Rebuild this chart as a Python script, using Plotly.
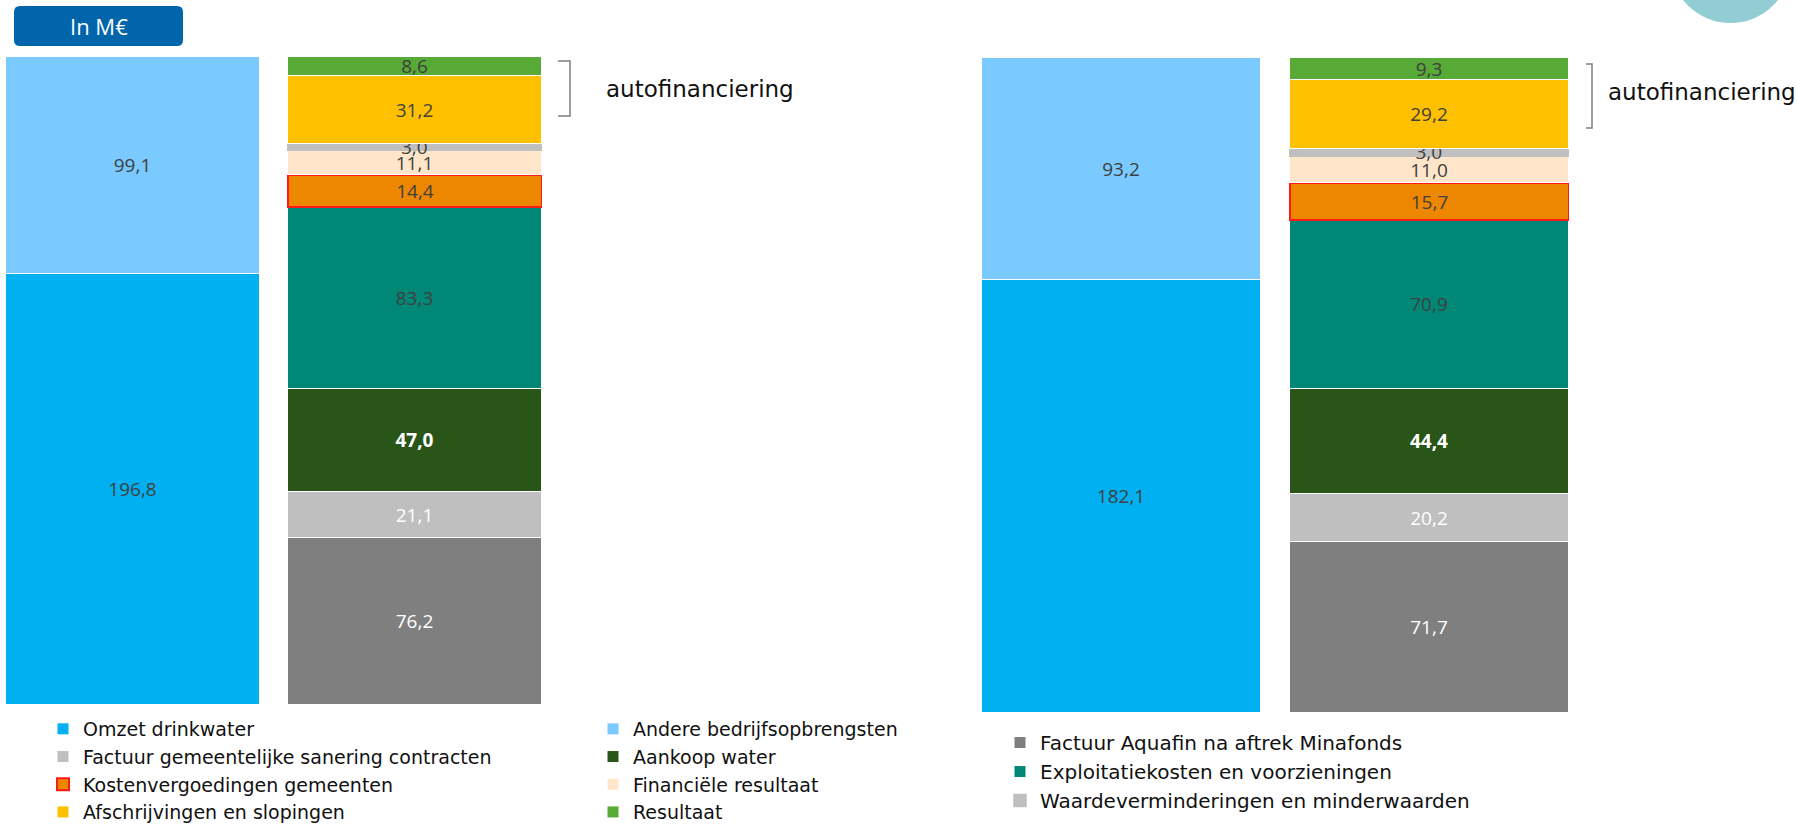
import plotly.graph_objects as go

# ---------------- data ----------------
bar_labels = ["Opbrengsten", "Kosten"]
revenue_names = ["Omzet drinkwater", "Andere bedrijfsopbrengsten"]
revenue_left = [196.8, 99.1]
revenue_right = [182.1, 93.2]

cost_names = [
    "Factuur Aquafin na aftrek Minafonds",
    "Factuur gemeentelijke sanering contracten",
    "Aankoop water",
    "Exploitatiekosten en voorzieningen",
    "Kostenvergoedingen gemeenten",
    "Financiële resultaat",
    "Waardeverminderingen en minderwaarden",
    "Afschrijvingen en slopingen",
    "Resultaat",
]
cost_left = [76.2, 21.1, 47.0, 83.3, 14.4, 11.1, 3.0, 31.2, 8.6]
cost_right = [71.7, 20.2, 44.4, 70.9, 15.7, 11.0, 3.0, 29.2, 9.3]

bracket_label = "autofinanciering"
unit_label = "In M€"

# ---------------- style ----------------
W, H = 1797, 825
revenue_colors = ["#00B0F0", "#7AC9FF"]
cost_colors = ["#7F7F7F", "#BFBFBF", "#2A5519", "#008775", "#EE8700",
               "#FFE6CA", "#BFBFBF", "#FFC000", "#56AA35"]
cost_line_colors = ["white", "white", "white", "white", "#FF1A1A",
                    "white", "#BFBFBF", "white", "white"]
cost_line_widths = [1, 1, 1, 1, 2, 1, 1.5, 1, 1]
cost_text_colors = ["white", "white", "white", "#404040", "#404040",
                    "#404040", "#404040", "#404040", "#404040"]
revenue_legend = ["legend", "legend2"]
cost_legend = ["legend3", "legend", "legend2", "legend3", "legend",
               "legend2", "legend3", "legend", "legend2"]

LABEL_FONT = "Open Sans"
TEXT_FONT = "DejaVu Sans"


def px(x):
    return x / W


def py(y):
    return 1 - y / H


fig = go.Figure()


def add_chart(rev_vals, cost_vals, xa, ya, show, bw):
    for i, (n, v) in enumerate(zip(revenue_names, rev_vals)):
        fig.add_trace(go.Bar(
            x=[0], y=[v], width=[bw], name=n, xaxis=xa, yaxis=ya,
            marker=dict(color=revenue_colors[i], line=dict(color="white", width=1)),
            texttemplate="%{y:.1f}", textposition="inside", insidetextanchor="middle",
            constraintext="none", textangle=0,
            textfont=dict(family=LABEL_FONT, size=19, color="#404040"),
            showlegend=show, legend=revenue_legend[i], hoverinfo="skip",
        ))
    for i, (n, v) in enumerate(zip(cost_names, cost_vals)):
        fig.add_trace(go.Bar(
            x=[1], y=[v], width=[bw], name=n, xaxis=xa, yaxis=ya,
            marker=dict(color=cost_colors[i],
                        line=dict(color=cost_line_colors[i], width=cost_line_widths[i])),
            texttemplate="%{y:.1f}", textposition="inside", insidetextanchor="middle",
            constraintext="none", textangle=0,
            textfont=dict(family=LABEL_FONT, size=19, color=cost_text_colors[i],
                          weight="bold" if i == 2 else "normal"),
            showlegend=show, legend=cost_legend[i], hoverinfo="skip",
        ))


wl, wr = 0.902, 0.904
add_chart(revenue_left, cost_left, "x", "y", True, wl)
add_chart(revenue_right, cost_right, "x2", "y2", False, wr)

legend_common = dict(xanchor="left", yanchor="top", traceorder="normal", orientation="v",
                     bgcolor="rgba(0,0,0,0)", tracegroupgap=0)
fig.update_layout(
    width=W, height=H, margin=dict(l=0, r=0, t=0, b=0, autoexpand=False),
    paper_bgcolor="white", plot_bgcolor="white",
    barmode="stack", bargap=0, separators=",.",
    showlegend=True,
    xaxis=dict(domain=[px(6), px(542)], range=[-wl / 2, 1 + wl / 2], visible=False, fixedrange=True),
    yaxis=dict(domain=[py(705), py(57)], range=[0, sum(revenue_left)], visible=False, fixedrange=True),
    xaxis2=dict(domain=[px(982), px(1569)], range=[-wr / 2, 1 + wr / 2], visible=False,
                anchor="y2", fixedrange=True),
    yaxis2=dict(domain=[py(713), py(58)], range=[0, sum(revenue_right)], visible=False,
                anchor="x2", fixedrange=True),
    legend=dict(x=px(43), y=py(710), font=dict(family=TEXT_FONT, size=19, color="#111111"),
                **legend_common),
    legend2=dict(x=px(593), y=py(710), font=dict(family=TEXT_FONT, size=19, color="#111111"),
                 **legend_common),
    legend3=dict(x=px(1000), y=py(723), font=dict(family=TEXT_FONT, size=20, color="#111111"),
                 **legend_common),
)

# "In M€" rounded box
x0, x1, y0, y1, r = 14, 183, 6, 46, 6
path = (f"M {px(x0 + r)},{py(y0)} L {px(x1 - r)},{py(y0)} Q {px(x1)},{py(y0)} {px(x1)},{py(y0 + r)} "
        f"L {px(x1)},{py(y1 - r)} Q {px(x1)},{py(y1)} {px(x1 - r)},{py(y1)} "
        f"L {px(x0 + r)},{py(y1)} Q {px(x0)},{py(y1)} {px(x0)},{py(y1 - r)} "
        f"L {px(x0)},{py(y0 + r)} Q {px(x0)},{py(y0)} {px(x0 + r)},{py(y0)} Z")
fig.add_shape(type="path", path=path, xref="paper", yref="paper",
              fillcolor="#0065AB", line=dict(width=0), layer="above")
fig.add_annotation(x=px((x0 + x1) / 2), y=py((y0 + y1) / 2), xref="paper", yref="paper",
                   text=unit_label, showarrow=False, xanchor="center", yanchor="middle",
                   font=dict(family=LABEL_FONT, size=22, color="white"))

# decorative circle top right
fig.add_shape(type="circle", xref="paper", yref="paper",
              x0=px(1670), x1=px(1791), y0=py(23), y1=py(-98),
              fillcolor="#93CDD4", line=dict(width=0))

# brackets + labels
for (bx0, bx1, by0, by1, tx, ty) in [(558, 570, 61, 116, 604, 89), (1586, 1592, 64, 128, 1606, 92)]:
    fig.add_shape(type="path", xref="paper", yref="paper",
                  path=f"M {px(bx0)},{py(by0)} L {px(bx1)},{py(by0)} L {px(bx1)},{py(by1)} L {px(bx0)},{py(by1)}",
                  line=dict(color="#7F7F7F", width=1.5))
    fig.add_annotation(x=px(tx), y=py(ty), xref="paper", yref="paper", text=bracket_label,
                       showarrow=False, xanchor="left", yanchor="middle",
                       font=dict(family=TEXT_FONT, size=23, color="#111111"))

fig.write_html("out.html", config={"displayModeBar": False},
               post_script="document.body.style.margin='0';document.body.style.overflow='hidden';")
